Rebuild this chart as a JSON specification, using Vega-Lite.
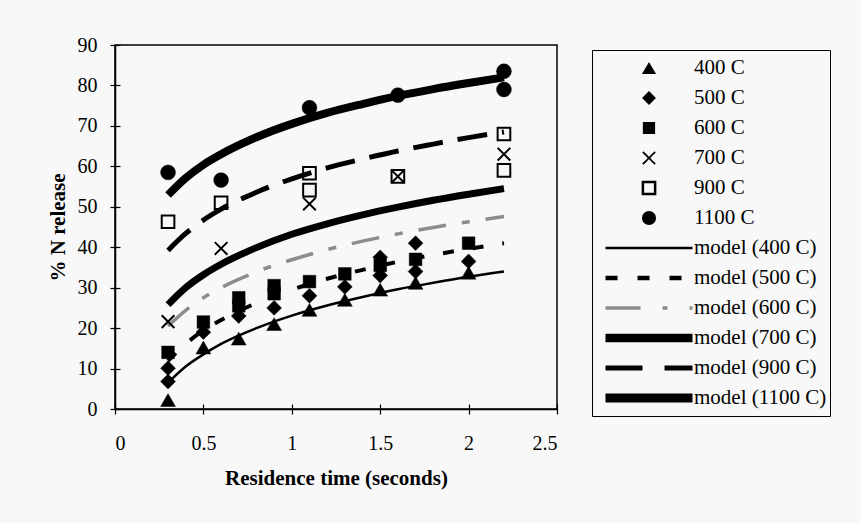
{
  "$schema": "https://vega.github.io/schema/vega-lite/v6.json",
  "width": 442,
  "height": 364,
  "autosize": {"type": "none"},
  "padding": {"left": 115, "top": 45, "right": 304, "bottom": 114},
  "background": "#f8f8f8",
  "config": {
    "view": {"stroke": "black", "strokeWidth": 1.5},
    "font": "Liberation Serif",
    "legend": {"labelFont": "Liberation Serif"},
    "axis": {
      "grid": false,
      "domainColor": "black",
      "domainWidth": 1.5,
      "tickColor": "black",
      "tickWidth": 1.2,
      "tickSize": 5,
      "labelFont": "Liberation Serif",
      "labelFontSize": 20,
      "labelColor": "black",
      "titleFont": "Liberation Serif",
      "titleFontSize": 21,
      "titleFontWeight": "bold",
      "titleColor": "black"
    }
  },
  "datasets": {
    "pts": [
      {"s": "400 C", "x": 0.3, "y": 2.2},
      {"s": "400 C", "x": 0.5, "y": 15.2},
      {"s": "400 C", "x": 0.7, "y": 17.4},
      {"s": "400 C", "x": 0.9, "y": 21.0},
      {"s": "400 C", "x": 1.1, "y": 24.5},
      {"s": "400 C", "x": 1.3, "y": 27.0},
      {"s": "400 C", "x": 1.5, "y": 29.5},
      {"s": "400 C", "x": 1.7, "y": 31.2},
      {"s": "400 C", "x": 2.0, "y": 33.7},
      {"s": "500 C", "x": 0.3, "y": 6.8},
      {"s": "500 C", "x": 0.3, "y": 10.1},
      {"s": "500 C", "x": 0.5, "y": 19.0},
      {"s": "500 C", "x": 0.7, "y": 23.0},
      {"s": "500 C", "x": 0.9, "y": 25.0},
      {"s": "500 C", "x": 1.1, "y": 28.0},
      {"s": "500 C", "x": 1.3, "y": 30.2},
      {"s": "500 C", "x": 1.5, "y": 33.0},
      {"s": "500 C", "x": 1.5, "y": 37.5},
      {"s": "500 C", "x": 1.7, "y": 34.0},
      {"s": "500 C", "x": 1.7, "y": 41.0},
      {"s": "500 C", "x": 2.0, "y": 36.5},
      {"s": "600 C", "x": 0.3, "y": 14.0},
      {"s": "600 C", "x": 0.5, "y": 21.5},
      {"s": "600 C", "x": 0.7, "y": 25.5},
      {"s": "600 C", "x": 0.7, "y": 27.5},
      {"s": "600 C", "x": 0.9, "y": 28.5},
      {"s": "600 C", "x": 0.9, "y": 30.5},
      {"s": "600 C", "x": 1.1, "y": 31.5},
      {"s": "600 C", "x": 1.3, "y": 33.4},
      {"s": "600 C", "x": 1.5, "y": 35.5},
      {"s": "600 C", "x": 1.7, "y": 37.0},
      {"s": "600 C", "x": 2.0, "y": 41.0},
      {"s": "700 C", "x": 0.3, "y": 21.6},
      {"s": "700 C", "x": 0.6, "y": 39.7},
      {"s": "700 C", "x": 1.1, "y": 50.7},
      {"s": "700 C", "x": 1.6, "y": 57.5},
      {"s": "700 C", "x": 2.2, "y": 63.0},
      {"s": "900 C", "x": 0.3, "y": 46.3},
      {"s": "900 C", "x": 0.6, "y": 51.0},
      {"s": "900 C", "x": 1.1, "y": 58.3},
      {"s": "900 C", "x": 1.1, "y": 54.1},
      {"s": "900 C", "x": 1.6, "y": 57.5},
      {"s": "900 C", "x": 2.2, "y": 68.0},
      {"s": "900 C", "x": 2.2, "y": 59.0},
      {"s": "1100 C", "x": 0.3, "y": 58.5},
      {"s": "1100 C", "x": 0.6, "y": 56.6},
      {"s": "1100 C", "x": 1.1, "y": 74.5},
      {"s": "1100 C", "x": 1.6, "y": 77.6},
      {"s": "1100 C", "x": 2.2, "y": 83.5},
      {"s": "1100 C", "x": 2.2, "y": 79.0}
    ],
    "mdl": [
      {"m": "model (400 C)", "x": 0.3, "y": 6.5},
      {"m": "model (400 C)", "x": 0.4, "y": 10.5},
      {"m": "model (400 C)", "x": 0.5, "y": 13.5},
      {"m": "model (400 C)", "x": 0.6, "y": 16.1},
      {"m": "model (400 C)", "x": 0.8, "y": 20.0},
      {"m": "model (400 C)", "x": 1.0, "y": 23.1},
      {"m": "model (400 C)", "x": 1.2, "y": 25.6},
      {"m": "model (400 C)", "x": 1.4, "y": 27.7},
      {"m": "model (400 C)", "x": 1.6, "y": 29.6},
      {"m": "model (400 C)", "x": 1.8, "y": 31.2},
      {"m": "model (400 C)", "x": 2.0, "y": 32.7},
      {"m": "model (400 C)", "x": 2.2, "y": 34.0},
      {"m": "model (500 C)", "x": 0.3, "y": 11.9},
      {"m": "model (500 C)", "x": 0.4, "y": 16.1},
      {"m": "model (500 C)", "x": 0.5, "y": 19.4},
      {"m": "model (500 C)", "x": 0.6, "y": 22.0},
      {"m": "model (500 C)", "x": 0.8, "y": 26.2},
      {"m": "model (500 C)", "x": 1.0, "y": 29.5},
      {"m": "model (500 C)", "x": 1.2, "y": 32.2},
      {"m": "model (500 C)", "x": 1.4, "y": 34.4},
      {"m": "model (500 C)", "x": 1.6, "y": 36.4},
      {"m": "model (500 C)", "x": 1.8, "y": 38.1},
      {"m": "model (500 C)", "x": 2.0, "y": 39.6},
      {"m": "model (500 C)", "x": 2.2, "y": 41.0},
      {"m": "model (600 C)", "x": 0.3, "y": 20.5},
      {"m": "model (600 C)", "x": 0.4, "y": 24.4},
      {"m": "model (600 C)", "x": 0.5, "y": 27.5},
      {"m": "model (600 C)", "x": 0.6, "y": 30.0},
      {"m": "model (600 C)", "x": 0.8, "y": 33.9},
      {"m": "model (600 C)", "x": 1.0, "y": 36.9},
      {"m": "model (600 C)", "x": 1.2, "y": 39.4},
      {"m": "model (600 C)", "x": 1.4, "y": 41.5},
      {"m": "model (600 C)", "x": 1.6, "y": 43.3},
      {"m": "model (600 C)", "x": 1.8, "y": 44.9},
      {"m": "model (600 C)", "x": 2.0, "y": 46.3},
      {"m": "model (600 C)", "x": 2.2, "y": 47.6},
      {"m": "model (700 C)", "x": 0.3, "y": 25.8},
      {"m": "model (700 C)", "x": 0.4, "y": 30.0},
      {"m": "model (700 C)", "x": 0.5, "y": 33.2},
      {"m": "model (700 C)", "x": 0.6, "y": 35.8},
      {"m": "model (700 C)", "x": 0.8, "y": 39.9},
      {"m": "model (700 C)", "x": 1.0, "y": 43.2},
      {"m": "model (700 C)", "x": 1.2, "y": 45.8},
      {"m": "model (700 C)", "x": 1.4, "y": 48.0},
      {"m": "model (700 C)", "x": 1.6, "y": 49.9},
      {"m": "model (700 C)", "x": 1.8, "y": 51.6},
      {"m": "model (700 C)", "x": 2.0, "y": 53.1},
      {"m": "model (700 C)", "x": 2.2, "y": 54.5},
      {"m": "model (900 C)", "x": 0.3, "y": 39.2},
      {"m": "model (900 C)", "x": 0.4, "y": 43.4},
      {"m": "model (900 C)", "x": 0.5, "y": 46.7},
      {"m": "model (900 C)", "x": 0.6, "y": 49.4},
      {"m": "model (900 C)", "x": 0.8, "y": 53.6},
      {"m": "model (900 C)", "x": 1.0, "y": 56.9},
      {"m": "model (900 C)", "x": 1.2, "y": 59.6},
      {"m": "model (900 C)", "x": 1.4, "y": 61.8},
      {"m": "model (900 C)", "x": 1.6, "y": 63.8},
      {"m": "model (900 C)", "x": 1.8, "y": 65.5},
      {"m": "model (900 C)", "x": 2.0, "y": 67.1},
      {"m": "model (900 C)", "x": 2.2, "y": 68.5},
      {"m": "model (1100 C)", "x": 0.3, "y": 52.9},
      {"m": "model (1100 C)", "x": 0.4, "y": 57.1},
      {"m": "model (1100 C)", "x": 0.5, "y": 60.4},
      {"m": "model (1100 C)", "x": 0.6, "y": 63.0},
      {"m": "model (1100 C)", "x": 0.8, "y": 67.2},
      {"m": "model (1100 C)", "x": 1.0, "y": 70.5},
      {"m": "model (1100 C)", "x": 1.2, "y": 73.2},
      {"m": "model (1100 C)", "x": 1.4, "y": 75.4},
      {"m": "model (1100 C)", "x": 1.6, "y": 77.4},
      {"m": "model (1100 C)", "x": 1.8, "y": 79.1},
      {"m": "model (1100 C)", "x": 2.0, "y": 80.6},
      {"m": "model (1100 C)", "x": 2.2, "y": 82.0}
    ]
  },
  "encoding": {
    "x": {
      "field": "x", "type": "quantitative",
      "scale": {"domain": [0, 2.5], "nice": false, "zero": false},
      "axis": {
        "title": "Residence time (seconds)",
        "values": [0, 0.5, 1, 1.5, 2, 2.5],
        "format": "~g",
        "labelPadding": 19,
        "titleY": 75,
        "titleBaseline": "alphabetic",
        "encoding": {"ticks": {"y": {"value": -5}, "y2": {"value": 5}}}
      }
    },
    "y": {
      "field": "y", "type": "quantitative",
      "scale": {"domain": [0, 90], "nice": false},
      "axis": {
        "title": "% N release",
        "values": [0, 10, 20, 30, 40, 50, 60, 70, 80, 90],
        "format": "d",
        "labelPadding": 13,
        "titleAngle": 270,
        "titleX": -51,
        "titleY": 182,
        "titleAlign": "center",
        "titleBaseline": "alphabetic",
        "encoding": {"ticks": {"x": {"value": 5}, "x2": {"value": -5}}}
      }
    }
  },
  "layer": [
    {
      "data": {"name": "mdl"},
      "transform": [{"filter": "datum.m === 'model (400 C)'"}],
      "mark": {"type": "line", "color": "black", "strokeWidth": 2.5, "interpolate": "monotone"},
      "encoding": {}
    },
    {
      "data": {"name": "mdl"},
      "transform": [{"filter": "datum.m === 'model (500 C)'"}],
      "mark": {"type": "line", "color": "black", "strokeWidth": 4, "strokeDash": [11, 19], "interpolate": "monotone"},
      "encoding": {}
    },
    {
      "data": {"name": "mdl"},
      "transform": [{"filter": "datum.m === 'model (600 C)'"}],
      "mark": {"type": "line", "color": "#8c8c8c", "strokeWidth": 3.5, "strokeDash": [28, 16, 8, 16], "interpolate": "monotone"},
      "encoding": {}
    },
    {
      "data": {"name": "mdl"},
      "transform": [{"filter": "datum.m === 'model (700 C)'"}],
      "mark": {"type": "line", "color": "black", "strokeWidth": 7, "interpolate": "monotone"},
      "encoding": {}
    },
    {
      "data": {"name": "mdl"},
      "transform": [{"filter": "datum.m === 'model (900 C)'"}],
      "mark": {"type": "line", "color": "black", "strokeWidth": 5, "strokeDash": [30, 15], "interpolate": "monotone"},
      "encoding": {}
    },
    {
      "data": {"name": "mdl"},
      "transform": [{"filter": "datum.m === 'model (1100 C)'"}],
      "mark": {"type": "line", "color": "black", "strokeWidth": 8, "interpolate": "monotone"},
      "encoding": {}
    },
    {
      "data": {"name": "pts"},
      "mark": {"type": "point", "filled": true, "opacity": 1, "fillOpacity": 1, "strokeOpacity": 1, "stroke": "black"},
      "encoding": {
        "shape": {
          "field": "s", "type": "nominal",
          "scale": {
            "domain": ["400 C", "500 C", "600 C", "700 C", "900 C", "1100 C", "model (400 C)", "model (500 C)", "model (600 C)", "model (700 C)", "model (900 C)", "model (1100 C)"],
            "range": ["triangle-up", "diamond", "square", "M-1,-1L1,1M-1,1L1,-1", "square", "circle", "stroke", "stroke", "stroke", "stroke", "stroke", "stroke"]
          },
          "legend": {
            "title": null,
            "orient": "none",
            "legendX": 477,
            "legendY": 5,
            "padding": 3,
            "strokeColor": "black",
            "fillColor": "#f8f8f8",
            "clipHeight": 30,
            "rowPadding": 0,
            "symbolOffset": 6,
            "labelOffset": -3,
            "labelFont": "Liberation Serif",
            "labelFontSize": 21,
            "labelColor": "black",
            "labelLimit": 300,
            "encoding": {
              "symbols": {
                "opacity": {"value": 1},
                "shape": {"value": {"expr": "['triangle-up','circle','square','M-1,-1L1,1M-1,1L1,-1','square','circle','stroke','stroke','stroke','stroke','stroke','stroke'][indexof(['400 C','500 C','600 C','700 C','900 C','1100 C','model (400 C)','model (500 C)','model (600 C)','model (700 C)','model (900 C)','model (1100 C)'], isString(datum) ? datum : datum.value)]"}},
                "size": {"value": {"expr": "[200,190,150,150,150,200,7569,7569,7569,7569,7569,7569][indexof(['400 C','500 C','600 C','700 C','900 C','1100 C','model (400 C)','model (500 C)','model (600 C)','model (700 C)','model (900 C)','model (1100 C)'], isString(datum) ? datum : datum.value)]"}},
                "fill": {"value": {"expr": "['black','black','black','transparent','transparent','black','transparent','transparent','transparent','transparent','transparent','transparent'][indexof(['400 C','500 C','600 C','700 C','900 C','1100 C','model (400 C)','model (500 C)','model (600 C)','model (700 C)','model (900 C)','model (1100 C)'], isString(datum) ? datum : datum.value)]"}},
                "stroke": {"value": {"expr": "(isString(datum) ? datum : datum.value) === 'model (600 C)' ? '#8c8c8c' : 'black'"}},
                "strokeWidth": {"value": {"expr": "[0,0,0,1.8,2.5,0,2.5,4.5,3.5,8.5,5,9][indexof(['400 C','500 C','600 C','700 C','900 C','1100 C','model (400 C)','model (500 C)','model (600 C)','model (700 C)','model (900 C)','model (1100 C)'], isString(datum) ? datum : datum.value)]"}},
                "strokeDash": {"value": {"expr": "[[1,0],[1,0],[1,0],[1,0],[1,0],[1,0],[1,0],[12,20],[35,22,5,22],[1,0],[37,22],[1,0]][indexof(['400 C','500 C','600 C','700 C','900 C','1100 C','model (400 C)','model (500 C)','model (600 C)','model (700 C)','model (900 C)','model (1100 C)'], isString(datum) ? datum : datum.value)]"}}
              }
            }
          }
        },
        "fill": {
          "condition": {"test": "datum.s === '700 C' || datum.s === '900 C'", "value": "transparent"},
          "value": "black"
        },
        "strokeWidth": {
          "condition": {"test": "datum.s === '700 C' || datum.s === '900 C'", "value": 2},
          "value": 0.5
        },
        "size": {
          "condition": {"test": "datum.s === '700 C' || datum.s === '900 C' || datum.s === '600 C'", "value": 160},
          "value": 220
        }
      }
    }
  ]
}
